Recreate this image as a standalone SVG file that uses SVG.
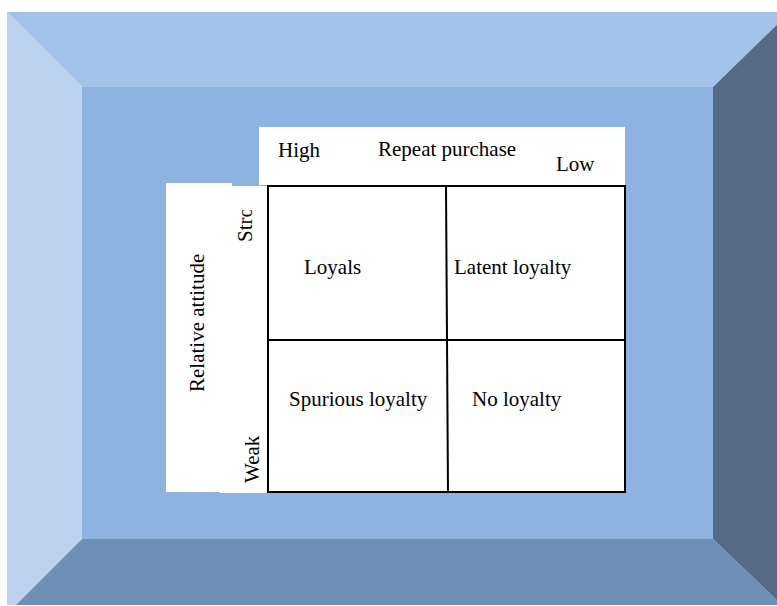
<svg xmlns="http://www.w3.org/2000/svg" width="777" height="606" viewBox="0 0 777 606">
<style>
.t{font-family:"Liberation Serif","Times New Roman",serif;font-size:21px;fill:#000}
.box{fill:#fff}
.grid{fill:none;stroke:#000;stroke-width:2}
</style>
<defs>
<clipPath id="stroClip"><rect x="220" y="210" width="48" height="60"/></clipPath>
</defs>
<rect width="777" height="606" fill="#fff"/>
<g id="frame">
<polygon points="7,12 790,12 713,87 82,87" fill="#A3C3E8"/>
<polygon points="7,12 82,87 82,539 16,605 7,605" fill="#BCD2EE"/>
<polygon points="82,539 713,539 782,605 16,605" fill="#6F90B5"/>
<polygon points="713,87 790,12 790,605 782,605 713,539" fill="#546A87"/>
<rect x="82" y="87" width="631" height="452" fill="#8EB3E1"/>
</g>
<g id="top-label">
<rect class="box" x="259" y="127" width="366" height="58"/>
<rect class="box" x="536" y="127" width="89" height="60"/>
<text class="t" x="278" y="157">High</text>
<text class="t" x="378" y="156">Repeat purchase</text>
<text class="t" x="556" y="171">Low</text>
</g>
<g id="left-label">
<rect class="box" x="166" y="183" width="66" height="309"/>
<rect class="box" x="220" y="186" width="48" height="307"/>
<text class="t" transform="translate(204,392) rotate(-90)">Relative attitude</text>
<g clip-path="url(#stroClip)">
<text class="t" transform="translate(252,242) rotate(-90)">Stro</text>
</g>
<text class="t" transform="translate(259,483) rotate(-90)">Weak</text>
</g>
<g id="matrix">
<rect class="box" x="268" y="186" width="357" height="306"/>
</g>
<g id="connectors">
<rect class="grid" x="268" y="186" width="357" height="306"/>
<line class="grid" x1="446" y1="186" x2="448" y2="492"/>
<line class="grid" x1="268" y1="340" x2="625" y2="340"/>
</g>
<g id="cell-loyals"><text class="t" x="304" y="274">Loyals</text></g>
<g id="cell-latent"><text class="t" x="454" y="274">Latent loyalty</text></g>
<g id="cell-spurious"><text class="t" x="289" y="406">Spurious loyalty</text></g>
<g id="cell-none"><text class="t" x="472" y="406">No loyalty</text></g>
</svg>
